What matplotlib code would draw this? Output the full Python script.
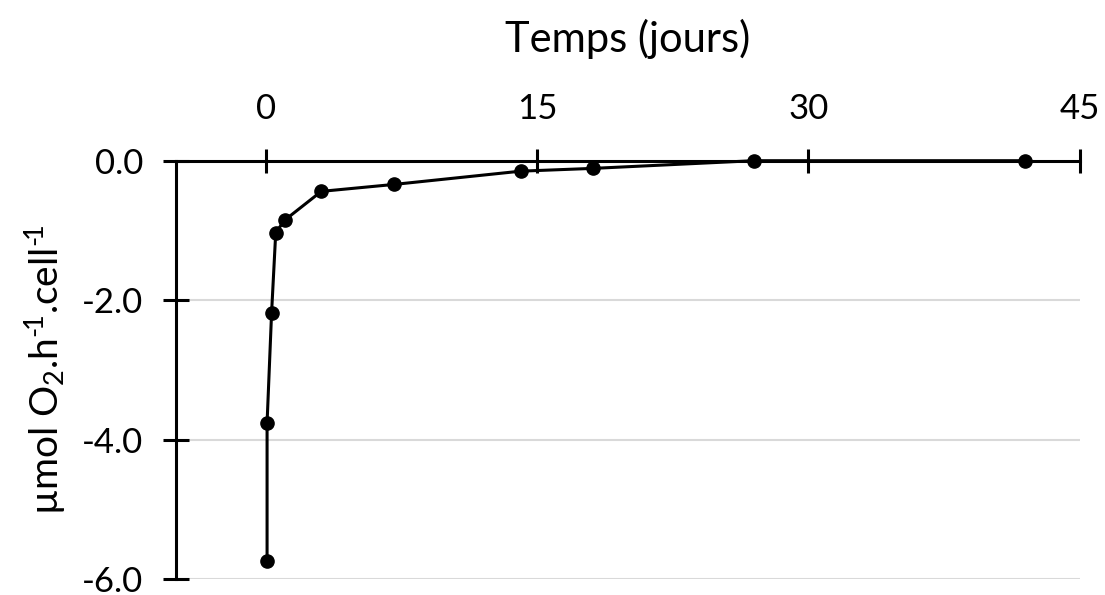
import matplotlib
matplotlib.use("Agg")
import matplotlib.pyplot as plt

plt.rcParams['font.family'] = ['Lato', 'DejaVu Sans']
plt.rcParams['mathtext.fontset'] = 'custom'
plt.rcParams['mathtext.rm'] = 'Lato'
plt.rcParams['mathtext.it'] = 'Lato:italic'
plt.rcParams['mathtext.bf'] = 'Lato:bold'
plt.rcParams['axes.unicode_minus'] = False

days = [0.04, 0.04, 0.29, 0.52, 1.03, 3.04, 7.08, 14.08, 18.09, 26.97, 41.97]
rate = [-5.74, -3.76, -2.18, -1.03, -0.85, -0.44, -0.34, -0.15, -0.11, 0.0, 0.0]
x_ticks = [0, 15, 30, 45]
y_ticks = [0.0, -2.0, -4.0, -6.0]

W, H = 1105, 595
fig = plt.figure(figsize=(W / 100, H / 100), dpi=100)
ax = fig.add_axes([176 / W, (H - 579) / H, (1079.5 - 176) / W, (579 - 160.7) / H])

ax.plot(days, rate, color='black', lw=2.2, marker='o', ms=9.5, zorder=3, clip_on=False)

ax.set_xlim(-5, 45)
ax.set_ylim(-6, 0)
ax.xaxis.tick_top()
ax.xaxis.set_label_position('top')
ax.set_xticks(x_ticks)
ax.set_xticklabels([str(t) for t in x_ticks])
ax.set_yticks(y_ticks)
ax.set_yticklabels([f"{t:.1f}" for t in y_ticks])

for s in ['bottom', 'right']:
    ax.spines[s].set_visible(False)
for s in ['top', 'left']:
    ax.spines[s].set_linewidth(2.2)
    ax.spines[s].set_zorder(2)

ax.tick_params(axis='x', direction='inout', length=17, width=2.2, labelsize=25, pad=17)
ax.tick_params(axis='y', direction='inout', length=19, width=2.2, labelsize=25, pad=14)
ax.grid(axis='y', color='#d9d9d9', lw=1.5, zorder=0)
ax.set_axisbelow(True)

ax.set_xlabel('Temps (jours)', fontsize=30, labelpad=30)
ax.set_ylabel('µmol O$_{2}$.h$^{\u2010\\!1}$.cell$^{\u2010\\!1}$', fontsize=28, labelpad=10)

fig.savefig('out.png', dpi=100)
